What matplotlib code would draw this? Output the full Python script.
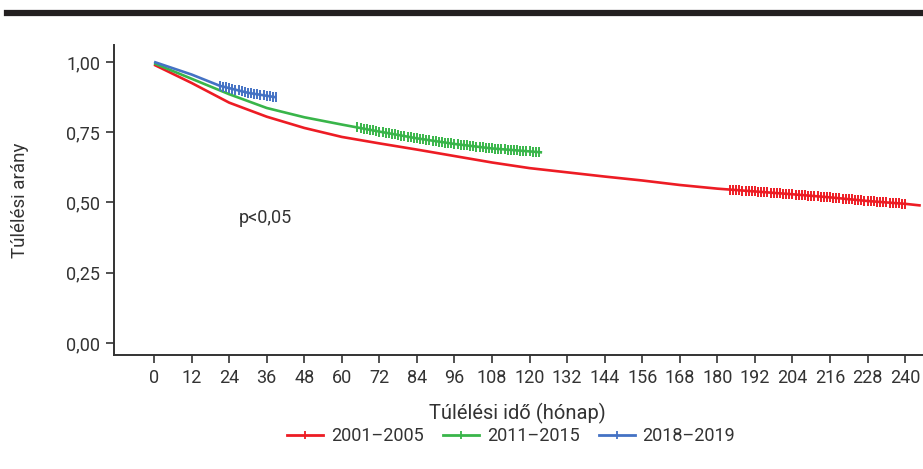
import numpy as np
import matplotlib.pyplot as plt
from matplotlib.lines import Line2D

plt.rcParams['font.family'] = ['Roboto', 'DejaVu Sans']

# Kaplan-Meier görbék (hónap, túlélési arány)
red_t = [0, 12, 24, 36, 48, 60, 72, 84, 96, 108, 120, 132, 144, 156, 168, 180, 192, 204, 216, 228, 240, 245]
red_s = [0.99, 0.925, 0.855, 0.805, 0.765, 0.733, 0.71, 0.688, 0.665, 0.642, 0.622, 0.607, 0.592, 0.578, 0.562, 0.549, 0.539, 0.529, 0.518, 0.505, 0.495, 0.489]
green_t = [0, 12, 24, 36, 48, 60, 72, 84, 96, 108, 124]
green_s = [0.995, 0.94, 0.885, 0.836, 0.803, 0.777, 0.752, 0.728, 0.708, 0.692, 0.678]
blue_t = [0, 12, 21, 30, 39]
blue_s = [1.0, 0.955, 0.915, 0.89, 0.874]

# cenzorált esetek időpontjai
red_cens = [184, 185, 186, 187, 188, 189, 190, 191, 192, 193, 194, 195, 196, 197, 198, 199, 200, 201, 202,
            203, 204, 205, 206, 207, 208, 209, 210, 211, 212, 213, 214, 215, 216, 217, 218, 219, 220, 221,
            222, 223, 224, 225, 226, 227, 228, 229, 230, 231, 232, 233, 234, 235, 236, 237, 238, 239, 240]
green_cens = [65, 66, 67, 68, 69, 70, 71, 72, 73, 74, 75, 76, 77, 78, 79, 80, 81, 82, 83, 84, 85, 86, 87, 88,
              89, 90, 91, 92, 93, 94, 95, 96, 97, 98, 99, 100, 101, 102, 103, 104, 105, 106, 107, 108,
              109, 110, 111, 112, 113, 114, 115, 116, 117, 118, 119, 120, 121, 122, 123]
blue_cens = [21, 22, 23, 24, 25, 26, 27, 28, 29, 30, 31, 32, 33, 34, 35, 36, 37, 38, 39]

labels = ['2001–2005', '2011–2015', '2018–2019']
colors = ['#ED1C24', '#39B54A', '#4472C4']
xticks = list(range(0, 241, 12))
yticks = [0, 0.25, 0.5, 0.75, 1.0]
ytick_labels = ['0,00', '0,25', '0,50', '0,75', '1,00']

fig = plt.figure(figsize=(9.23, 4.69), dpi=100)
ax = fig.add_axes([0.1235, 0.243, 0.8765, 0.661])

series = [(red_t, red_s, red_cens), (green_t, green_s, green_cens), (blue_t, blue_s, blue_cens)]
for (t, s, cens), c in zip(series, colors):
    ax.plot(t, s, color=c, lw=1.9, solid_capstyle='butt')
    ax.plot(cens, np.interp(cens, t, s), ls='none', marker='|', ms=6.5, mew=1.4, color=c)

ax.text(27, 0.445, 'p<0,05', fontsize=13, color='#333333', va='center')

ax.set_xlim(-12.8, 245.7)
ax.set_ylim(-0.043, 1.06)
ax.set_xticks(xticks)
ax.set_yticks(yticks)
ax.set_yticklabels(ytick_labels)
for sp in ['top', 'right']:
    ax.spines[sp].set_visible(False)
for sp in ['left', 'bottom']:
    ax.spines[sp].set_linewidth(1.4)
    ax.spines[sp].set_color('#333333')
ax.tick_params(length=6, width=1.2, color='#333333', labelsize=13, labelcolor='#333333', pad=4)

fig.text(0.561, 0.119, 'Túlélési idő (hónap)', ha='center', va='center', fontsize=14.5, color='#333333')
fig.text(0.022, 0.573, 'Túlélési arány', ha='center', va='center', rotation=90, fontsize=13.5, color='#333333')

handles = [Line2D([0], [0], color=c, lw=2, marker='|', ms=6, mew=1.3) for c in colors]
fig.legend(handles, labels, loc='center', bbox_to_anchor=(0.554, 0.07), ncol=3, frameon=False,
           fontsize=13, handlelength=2.0, columnspacing=1.1, handletextpad=0.4, labelcolor='#333333')

# tömör sáv a tetején
fig.add_artist(Line2D([0.008, 1.0], [0.973, 0.973], color='#231F20', lw=4.5, transform=fig.transFigure))

fig.savefig('out.png', dpi=100)
